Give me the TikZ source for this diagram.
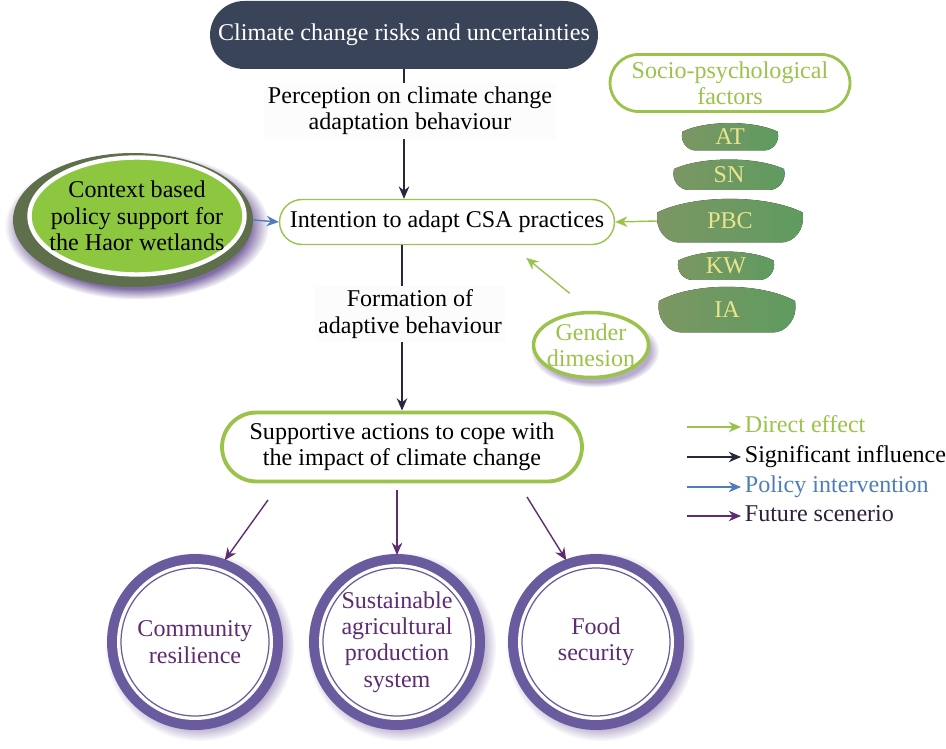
\documentclass[tikz,border=0pt]{standalone}
\usepackage{fontspec}
\setmainfont{Liberation Serif}
\usetikzlibrary{shapes.geometric,shadows,arrows.meta}

\begin{document}
\begin{tikzpicture}[x=0.02cm,y=-0.02cm,
  every node/.style={font=\fontsize{13.7}{15}\selectfont,align=center,inner sep=2pt},
  pillnode/.style={rectangle,draw=leaf,fill=white,rounded corners=#1},
  tip/.style={-{Stealth[length=7pt,width=6pt]},line width=0.8pt},
  sig/.style={tip,draw=ink},
  direct/.style={tip,draw=leaf},
  policy/.style={tip,draw=sky},
  future/.style={tip,draw=grape},
  ring/.style={circle,minimum size=2.96cm,outer sep=0.26cm,fill=white,draw=plum,line width=0.7pt,
    circular drop shadow={fill=haze,opacity=.4,shadow scale=1.28,shadow xshift=2pt,shadow yshift=-2pt},
    preaction={draw=plum,line width=0.56cm},preaction={draw=white,line width=0.16cm}}]
\definecolor{slate}{HTML}{3A4459}
\definecolor{leaf}{HTML}{9BC34B}
\definecolor{apple}{HTML}{8DC63F}
\definecolor{sage}{HTML}{5E6F4C}
\definecolor{moss}{HTML}{7C9763}
\definecolor{fern}{HTML}{5E9B60}
\definecolor{straw}{HTML}{E9E58C}
\definecolor{ink}{HTML}{262840}
\definecolor{sky}{HTML}{4F7DB9}
\definecolor{plum}{HTML}{6A5A9E}
\definecolor{grape}{HTML}{5E2C72}
\definecolor{haze}{HTML}{4B2F7F}
\definecolor{dusk}{HTML}{2E1F3A}
\useasboundingbox (0,0) rectangle (946,749);

\node[pillnode=0.68cm,draw=none,fill=slate,text=white,minimum width=7.76cm,minimum height=1.36cm] (risk) at (404,35) {Climate change risks and uncertainties};
\node[pillnode=0.45cm,line width=0.8pt,minimum width=6.7cm,minimum height=0.9cm] (intent) at (447,222) {Intention to adapt CSA practices};
\node[pillnode=0.69cm,line width=2.2pt,minimum width=7.2cm,minimum height=1.38cm] (support) at (402,447) {Supportive actions to cope with\\the impact of climate change};
\node[pillnode=0.57cm,line width=1.6pt,text=leaf,minimum width=4.8cm,minimum height=1.14cm] (socio) at (730,83) {Socio-psychological\\factors};

\draw[sig] (risk.south) -- (risk.south |- intent.north);
\node[fill=black!1] (percep) at (410,111) {Perception on climate change\\adaptation behaviour};
\draw[sig] (intent.south -| support.north) -- (support.north);
\node[fill=black!1] (formation) at (410,314) {Formation of\\adaptive behaviour};

% policy ellipse
\node[ellipse,fill=sage,minimum width=4.8cm,minimum height=2.68cm,circular glow={fill=haze,opacity=.7,shadow scale=1.1,shadow xshift=2pt,shadow yshift=-3pt}] (rim) at (133,220) {};
\node[ellipse,fill=apple,draw=white,line width=2.5pt,minimum width=4.3cm,minimum height=2.34cm] (disk) at (137,216) {};
\node (context) at (137,216) {Context based\\policy support for\\the Haor wetlands};
\draw[policy] (rim.east) -- (intent.west);

% socio-psychological factors
\foreach \fac/\cx/\cy/\w/\h in {AT/730/137/95/27,SN/729/175/110/30,PBC/730/221/145/43,KW/726/266/95/28,IA/727/310/136/45}
{ \fill[left color=moss,right color=fern]
    (\cx-\w/2,\cy-\h/5) .. controls (\cx-\w/4,\cy-0.62*\h) and (\cx+\w/4,\cy-0.62*\h) .. (\cx+\w/2,\cy-\h/5)
    .. controls (\cx+\w/2+3,\cy+\h/5) and (\cx+\w/2-\h/5,\cy+\h/2) .. (\cx+\w/2-\h/2,\cy+\h/2)
    -- (\cx-\w/2+\h/2,\cy+\h/2)
    .. controls (\cx-\w/2+\h/5,\cy+\h/2) and (\cx-\w/2-3,\cy+\h/5) .. cycle;
  \node[text=straw,minimum width=\w*0.02cm] (\fac) at (\cx,\cy) {\fac};
}
\draw[direct] (PBC.west) -- (intent.east);

\node[ellipse,draw=leaf,line width=2pt,fill=white,minimum width=2.3cm,minimum height=1.3cm,circular glow={fill=haze!80,opacity=.5,shadow scale=1.12,shadow xshift=2pt,shadow yshift=-3pt}] (gender) at (591,345) {};
\node[text=leaf] (gendertxt) at (591,345) {Gender\\dimesion};
\draw[direct,shorten <=0.55cm,shorten >=0.4cm] (gender.north) -- (intent.-20);

% future scenario
\foreach \name/\cx/\txt in {comm/195/{Community\\resilience},agri/397/{Sustainable\\agricultural\\production\\system},food/596/{Food\\security}}
{ \node[ring] (\name) at (\cx,642) {};
  \node[text=grape] (\name txt) at (\name) {\txt};
}
\coordinate (t1) at (268,500);
\coordinate (t2) at (397,490);
\coordinate (t3) at (527,497);
\draw[future] (t1) -- (comm.70);
\draw[future] (t2) -- (agri.north);
\draw[future] (t3) -- (food.110);

% legend
\foreach \sty/\col/\txt/\yy [count=\i] in {direct/leaf/Direct effect/427,sig/black/Significant influence/457,policy/sky/Policy intervention/487,future/dusk/Future scenerio/516}
{ \coordinate (key\i) at (687,\yy);
  \node[anchor=west,text=\col,text height=1.6ex,text depth=0.3ex] (legend\i) at (741,\yy) {\txt};
  \draw[\sty] (key\i) -- (legend\i.west);
}
\end{tikzpicture}
\end{document}
